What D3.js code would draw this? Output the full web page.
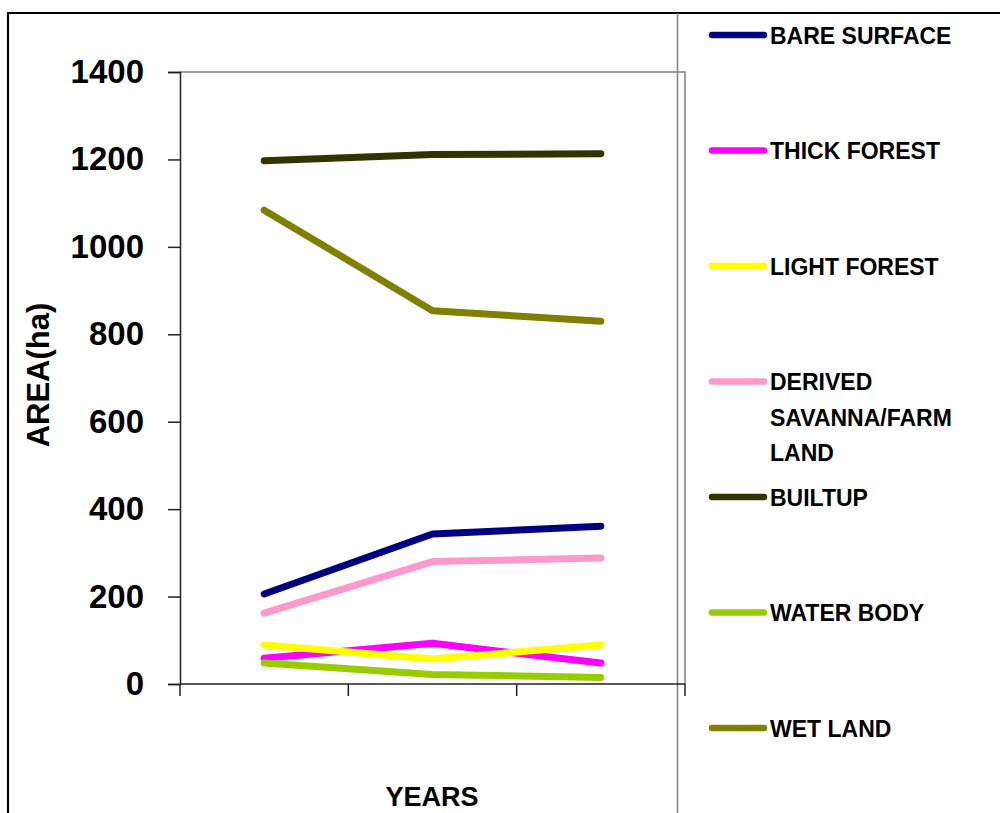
<!DOCTYPE html>
<html>
<head>
<meta charset="utf-8">
<script src="https://cdn.jsdelivr.net/npm/d3@7"></script>
<style>
  html, body { margin: 0; padding: 0; background: #fff; }
  svg { display: block; font-family: "Liberation Sans", Arial, sans-serif; font-weight: bold; }
</style>
</head>
<body>
<script>
// Land cover area (ha) over three survey periods
const periods = ["P1", "P2", "P3"];
const seriesNames = ["BARE SURFACE", "THICK FOREST", "LIGHT FOREST", "DERIVED SAVANNA/FARM LAND", "BUILTUP", "WATER BODY", "WET LAND"];
const bareSurface = [206, 343, 361];
const thickForest = [59, 93, 48];
const lightForest = [89, 57, 89];
const derivedSavanna = [162, 280, 288];
const builtup = [1197, 1211, 1213];
const waterBody = [48, 22, 15];
const wetLand = [1084, 854, 830];
const seriesColors = ["#000080", "#FF00FF", "#FFFF00", "#FF99CC", "#333300", "#99CC00", "#808000"];
const legendLines = [["BARE SURFACE"], ["THICK FOREST"], ["LIGHT FOREST"], ["DERIVED", "SAVANNA/FARM", "LAND"], ["BUILTUP"], ["WATER BODY"], ["WET LAND"]];
const yTicks = [0, 200, 400, 600, 800, 1000, 1200, 1400];

const seriesValues = [bareSurface, thickForest, lightForest, derivedSavanna, builtup, waterBody, wetLand];

const W = 1000, H = 813;
const svg = d3.select("body").append("svg").attr("width", W).attr("height", H);

// outer frame
svg.append("line").attr("x1", 8).attr("x2", W).attr("y1", 13).attr("y2", 13)
  .attr("stroke", "#000").attr("stroke-width", 2.2);
svg.append("line").attr("x1", 8).attr("x2", 8).attr("y1", 12).attr("y2", H)
  .attr("stroke", "#000").attr("stroke-width", 2.2);
svg.append("line").attr("x1", 677.5).attr("x2", 677.5).attr("y1", 13).attr("y2", H)
  .attr("stroke", "#808080").attr("stroke-width", 1.5);

const plot = { left: 180, right: 685, top: 72, bottom: 684 };

const x = d3.scaleBand().domain(periods).range([plot.left, plot.right]);
const y = d3.scaleLinear().domain([0, 1400]).range([plot.bottom, plot.top]);

// plot area border (top and right)
svg.append("path")
  .attr("d", `M${plot.left},${plot.top}H${plot.right}V${plot.bottom}`)
  .attr("fill", "none").attr("stroke", "#808080").attr("stroke-width", 1.5);

// y axis
const yAxis = svg.append("g").attr("transform", `translate(${plot.left},0)`)
  .call(d3.axisLeft(y).tickValues(yTicks).tickFormat(d3.format("d")).tickSize(12).tickPadding(24));
yAxis.select(".domain").attr("stroke", "#222").attr("stroke-width", 1.5);
yAxis.selectAll(".tick line").attr("stroke", "#222").attr("stroke-width", 1.5);
yAxis.selectAll(".tick text").attr("font-size", 33).attr("font-weight", "bold")
  .attr("font-family", "Liberation Sans, Arial, sans-serif").attr("fill", "#000");

// x axis with ticks at category boundaries
const xBounds = periods.map(p => x(p)).concat([x(periods[periods.length - 1]) + x.bandwidth()]);
svg.append("line").attr("x1", plot.left).attr("x2", plot.right)
  .attr("y1", plot.bottom).attr("y2", plot.bottom)
  .attr("stroke", "#222").attr("stroke-width", 1.5);
svg.selectAll(".xtick").data(xBounds).enter().append("line")
  .attr("class", "xtick")
  .attr("x1", d => d).attr("x2", d => d)
  .attr("y1", plot.bottom).attr("y2", plot.bottom + 12)
  .attr("stroke", "#222").attr("stroke-width", 1.5);

// axis titles
svg.append("text").attr("transform", `translate(49,375) rotate(-90)`)
  .attr("text-anchor", "middle").attr("font-size", 31).text("AREA(ha)");
svg.append("text").attr("x", 432).attr("y", 806)
  .attr("text-anchor", "middle").attr("font-size", 27).text("YEARS");

// series lines
const line = d3.line().x((d, i) => x(periods[i]) + x.bandwidth() / 2).y(d => y(d));
const order = [4, 6, 0, 3, 1, 2, 5];
svg.append("g").selectAll("path").data(order).enter().append("path")
  .attr("d", i => line(seriesValues[i]))
  .attr("fill", "none")
  .attr("stroke", i => seriesColors[i])
  .attr("stroke-width", 7)
  .attr("stroke-linecap", "round")
  .attr("stroke-linejoin", "round");

// legend
const legendY = d3.scalePoint().domain(seriesNames).range([35, 728]);
const lg = svg.append("g").selectAll("g").data(seriesNames).enter().append("g")
  .attr("transform", d => `translate(0,${legendY(d)})`);
lg.append("line").attr("x1", 712).attr("x2", 764).attr("y1", 0).attr("y2", 0)
  .attr("stroke", (d, i) => seriesColors[i]).attr("stroke-width", 6.5)
  .attr("stroke-linecap", "round");
lg.append("text").attr("x", 770).attr("y", 8.5).attr("font-size", 23)
  .selectAll("tspan").data((d, i) => legendLines[i]).enter().append("tspan")
  .attr("x", 770).attr("dy", (d, j) => j === 0 ? 0 : 35.5).text(d => d);
</script>
</body>
</html>
